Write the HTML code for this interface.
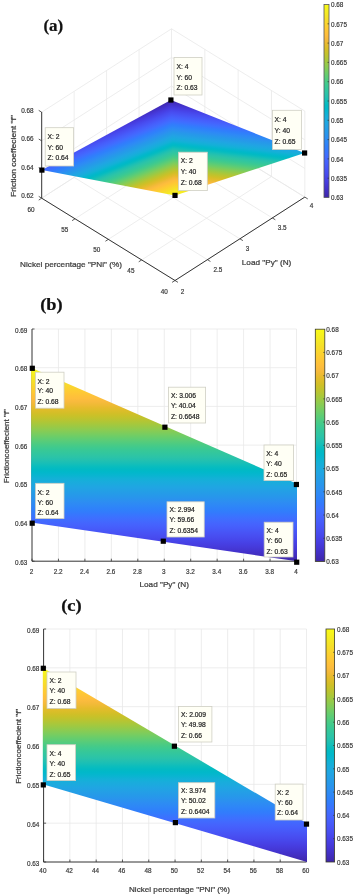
<!DOCTYPE html>
<html><head><meta charset="utf-8"><title>Friction coefficient plots</title>
<style>html,body{margin:0;padding:0;background:#fff}svg{display:block;filter:blur(.35px)}text{stroke-width:.22px;paint-order:stroke}</style></head>
<body>
<svg width="357" height="896" viewBox="0 0 357 896">
<defs>
<linearGradient id="parula"><stop offset="0.0000" stop-color="#f9fb15"/><stop offset="0.0159" stop-color="#f7f51b"/><stop offset="0.0317" stop-color="#f6ef20"/><stop offset="0.0476" stop-color="#f5e924"/><stop offset="0.0635" stop-color="#f5e327"/><stop offset="0.0794" stop-color="#f7dc2a"/><stop offset="0.0952" stop-color="#fad62d"/><stop offset="0.1111" stop-color="#fccf30"/><stop offset="0.1270" stop-color="#fec934"/><stop offset="0.1429" stop-color="#fec338"/><stop offset="0.1587" stop-color="#febe3c"/><stop offset="0.1746" stop-color="#f8ba3d"/><stop offset="0.1905" stop-color="#f0ba36"/><stop offset="0.2063" stop-color="#e6bb2d"/><stop offset="0.2222" stop-color="#dcbd29"/><stop offset="0.2381" stop-color="#d1bf27"/><stop offset="0.2540" stop-color="#c5c22a"/><stop offset="0.2698" stop-color="#b9c431"/><stop offset="0.2857" stop-color="#abc739"/><stop offset="0.3016" stop-color="#9dc943"/><stop offset="0.3175" stop-color="#8fcb4e"/><stop offset="0.3333" stop-color="#81cc59"/><stop offset="0.3492" stop-color="#72cd64"/><stop offset="0.3651" stop-color="#64cd6f"/><stop offset="0.3810" stop-color="#57cc7a"/><stop offset="0.3968" stop-color="#4acb84"/><stop offset="0.4127" stop-color="#3fca8e"/><stop offset="0.4286" stop-color="#37c897"/><stop offset="0.4444" stop-color="#31c69f"/><stop offset="0.4603" stop-color="#2cc4a7"/><stop offset="0.4762" stop-color="#24c1ae"/><stop offset="0.4921" stop-color="#19bfb6"/><stop offset="0.5079" stop-color="#0bbdbd"/><stop offset="0.5238" stop-color="#02bac3"/><stop offset="0.5397" stop-color="#01b8ca"/><stop offset="0.5556" stop-color="#08b5d0"/><stop offset="0.5714" stop-color="#12b1d6"/><stop offset="0.5873" stop-color="#18addb"/><stop offset="0.6032" stop-color="#1ca9df"/><stop offset="0.6190" stop-color="#20a5e3"/><stop offset="0.6349" stop-color="#23a0e5"/><stop offset="0.6508" stop-color="#259be8"/><stop offset="0.6667" stop-color="#2797eb"/><stop offset="0.6825" stop-color="#2b91ef"/><stop offset="0.6984" stop-color="#2d8cf3"/><stop offset="0.7143" stop-color="#2e87f7"/><stop offset="0.7302" stop-color="#2f81fa"/><stop offset="0.7460" stop-color="#327cfc"/><stop offset="0.7619" stop-color="#3875fe"/><stop offset="0.7778" stop-color="#3e6fff"/><stop offset="0.7937" stop-color="#4269fe"/><stop offset="0.8095" stop-color="#4563fd"/><stop offset="0.8254" stop-color="#465efb"/><stop offset="0.8413" stop-color="#4758f8"/><stop offset="0.8571" stop-color="#4852f4"/><stop offset="0.8730" stop-color="#484df0"/><stop offset="0.8889" stop-color="#4747eb"/><stop offset="0.9048" stop-color="#4741e5"/><stop offset="0.9206" stop-color="#463cde"/><stop offset="0.9365" stop-color="#4537d5"/><stop offset="0.9524" stop-color="#4332cb"/><stop offset="0.9683" stop-color="#422ec0"/><stop offset="0.9841" stop-color="#402ab4"/><stop offset="1.0000" stop-color="#3e26a8"/></linearGradient>
<linearGradient id="ga" href="#parula" gradientUnits="userSpaceOnUse" x1="0" y1="4.50" x2="0" y2="197.50"/>
<linearGradient id="gb" href="#parula" gradientUnits="userSpaceOnUse" x1="0" y1="329.20" x2="0" y2="561.50"/>
<linearGradient id="gc" href="#parula" gradientUnits="userSpaceOnUse" x1="0" y1="629.00" x2="0" y2="862.00"/>
<linearGradient id="pb" href="#parula" gradientUnits="userSpaceOnUse" x1="0" y1="367.70" x2="0" y2="561.20"/>
<linearGradient id="pc" href="#parula" gradientUnits="userSpaceOnUse" x1="0" y1="667.90" x2="0" y2="862.00"/>
</defs>
<rect width="357" height="896" fill="#fff"/>
<line x1="175.00" y1="280.50" x2="41.70" y2="198.20" stroke="#e9e9e9" stroke-width="0.8"/>
<line x1="207.45" y1="259.65" x2="74.15" y2="177.35" stroke="#e9e9e9" stroke-width="0.8"/>
<line x1="239.90" y1="238.80" x2="106.60" y2="156.50" stroke="#e9e9e9" stroke-width="0.8"/>
<line x1="272.35" y1="217.95" x2="139.05" y2="135.65" stroke="#e9e9e9" stroke-width="0.8"/>
<line x1="304.80" y1="197.10" x2="171.50" y2="114.80" stroke="#e9e9e9" stroke-width="0.8"/>
<line x1="175.00" y1="280.50" x2="304.80" y2="197.10" stroke="#e9e9e9" stroke-width="0.8"/>
<line x1="141.68" y1="259.93" x2="271.48" y2="176.52" stroke="#e9e9e9" stroke-width="0.8"/>
<line x1="108.35" y1="239.35" x2="238.15" y2="155.95" stroke="#e9e9e9" stroke-width="0.8"/>
<line x1="75.02" y1="218.77" x2="204.82" y2="135.38" stroke="#e9e9e9" stroke-width="0.8"/>
<line x1="41.70" y1="198.20" x2="171.50" y2="114.80" stroke="#e9e9e9" stroke-width="0.8"/>
<line x1="74.15" y1="177.35" x2="74.15" y2="91.35" stroke="#e9e9e9" stroke-width="0.8"/>
<line x1="106.60" y1="156.50" x2="106.60" y2="70.50" stroke="#e9e9e9" stroke-width="0.8"/>
<line x1="139.05" y1="135.65" x2="139.05" y2="49.65" stroke="#e9e9e9" stroke-width="0.8"/>
<line x1="171.50" y1="114.80" x2="171.50" y2="28.80" stroke="#e9e9e9" stroke-width="0.8"/>
<line x1="41.70" y1="198.20" x2="171.50" y2="114.80" stroke="#e9e9e9" stroke-width="0.8"/>
<line x1="171.50" y1="114.80" x2="304.80" y2="197.10" stroke="#e9e9e9" stroke-width="0.8"/>
<line x1="41.70" y1="169.53" x2="171.50" y2="86.13" stroke="#e9e9e9" stroke-width="0.8"/>
<line x1="171.50" y1="86.13" x2="304.80" y2="168.43" stroke="#e9e9e9" stroke-width="0.8"/>
<line x1="41.70" y1="140.87" x2="171.50" y2="57.47" stroke="#e9e9e9" stroke-width="0.8"/>
<line x1="171.50" y1="57.47" x2="304.80" y2="139.77" stroke="#e9e9e9" stroke-width="0.8"/>
<line x1="41.70" y1="112.20" x2="171.50" y2="28.80" stroke="#e9e9e9" stroke-width="0.8"/>
<line x1="171.50" y1="28.80" x2="304.80" y2="111.10" stroke="#e9e9e9" stroke-width="0.8"/>
<line x1="204.82" y1="135.38" x2="204.82" y2="49.37" stroke="#e9e9e9" stroke-width="0.8"/>
<line x1="238.15" y1="155.95" x2="238.15" y2="69.95" stroke="#e9e9e9" stroke-width="0.8"/>
<line x1="271.48" y1="176.52" x2="271.48" y2="90.52" stroke="#e9e9e9" stroke-width="0.8"/>
<line x1="304.80" y1="197.10" x2="304.80" y2="111.10" stroke="#e9e9e9" stroke-width="0.8"/>
<defs><linearGradient id="t1" href="#parula" gradientUnits="userSpaceOnUse" x1="175.00" y1="195.40" x2="185.54" y2="101.64"/><linearGradient id="t2" href="#parula" gradientUnits="userSpaceOnUse" x1="175.00" y1="195.40" x2="141.97" y2="111.37"/></defs>
<polygon points="175.00,195.40 304.60,153.00 170.90,100.00 169.40,101.10 173.50,195.10" fill="url(#t1)"/>
<polygon points="175.00,195.40 41.90,170.10 170.90,100.00" fill="url(#t2)"/>
<line x1="41.70" y1="112.00" x2="41.70" y2="198.20" stroke="#333333" stroke-width="1"/>
<line x1="41.70" y1="198.20" x2="175.00" y2="280.50" stroke="#333333" stroke-width="1"/>
<line x1="175.00" y1="280.50" x2="304.80" y2="197.10" stroke="#333333" stroke-width="1"/>
<line x1="41.70" y1="198.20" x2="38.72" y2="196.36" stroke="#333333" stroke-width="0.8"/>
<line x1="41.70" y1="169.53" x2="38.72" y2="167.69" stroke="#333333" stroke-width="0.8"/>
<line x1="41.70" y1="140.87" x2="38.72" y2="139.03" stroke="#333333" stroke-width="0.8"/>
<line x1="41.70" y1="112.20" x2="38.72" y2="110.36" stroke="#333333" stroke-width="0.8"/>
<line x1="175.00" y1="280.50" x2="172.06" y2="282.39" stroke="#333333" stroke-width="0.8"/>
<line x1="141.68" y1="259.93" x2="138.73" y2="261.82" stroke="#333333" stroke-width="0.8"/>
<line x1="108.35" y1="239.35" x2="105.41" y2="241.24" stroke="#333333" stroke-width="0.8"/>
<line x1="75.02" y1="218.77" x2="72.08" y2="220.67" stroke="#333333" stroke-width="0.8"/>
<line x1="41.70" y1="198.20" x2="38.76" y2="200.09" stroke="#333333" stroke-width="0.8"/>
<line x1="175.00" y1="280.50" x2="177.98" y2="282.34" stroke="#333333" stroke-width="0.8"/>
<line x1="207.45" y1="259.65" x2="210.43" y2="261.49" stroke="#333333" stroke-width="0.8"/>
<line x1="239.90" y1="238.80" x2="242.88" y2="240.64" stroke="#333333" stroke-width="0.8"/>
<line x1="272.35" y1="217.95" x2="275.33" y2="219.79" stroke="#333333" stroke-width="0.8"/>
<line x1="304.80" y1="197.10" x2="307.78" y2="198.94" stroke="#333333" stroke-width="0.8"/>
<text transform="translate(33.60,113.15) scale(0.85,1)" font-family="Liberation Sans, Arial, sans-serif" font-size="7.5" text-anchor="end" fill="#3a3a3a" stroke="#3a3a3a">0.68</text>
<text transform="translate(33.60,141.25) scale(0.85,1)" font-family="Liberation Sans, Arial, sans-serif" font-size="7.5" text-anchor="end" fill="#3a3a3a" stroke="#3a3a3a">0.66</text>
<text transform="translate(33.60,169.95) scale(0.85,1)" font-family="Liberation Sans, Arial, sans-serif" font-size="7.5" text-anchor="end" fill="#3a3a3a" stroke="#3a3a3a">0.64</text>
<text transform="translate(33.60,198.25) scale(0.85,1)" font-family="Liberation Sans, Arial, sans-serif" font-size="7.5" text-anchor="end" fill="#3a3a3a" stroke="#3a3a3a">0.62</text>
<text transform="translate(31.00,211.65) scale(0.85,1)" font-family="Liberation Sans, Arial, sans-serif" font-size="7.5" text-anchor="middle" fill="#3a3a3a" stroke="#3a3a3a">60</text>
<text transform="translate(64.80,232.25) scale(0.85,1)" font-family="Liberation Sans, Arial, sans-serif" font-size="7.5" text-anchor="middle" fill="#3a3a3a" stroke="#3a3a3a">55</text>
<text transform="translate(96.80,252.25) scale(0.85,1)" font-family="Liberation Sans, Arial, sans-serif" font-size="7.5" text-anchor="middle" fill="#3a3a3a" stroke="#3a3a3a">50</text>
<text transform="translate(130.90,273.05) scale(0.85,1)" font-family="Liberation Sans, Arial, sans-serif" font-size="7.5" text-anchor="middle" fill="#3a3a3a" stroke="#3a3a3a">45</text>
<text transform="translate(164.20,293.65) scale(0.85,1)" font-family="Liberation Sans, Arial, sans-serif" font-size="7.5" text-anchor="middle" fill="#3a3a3a" stroke="#3a3a3a">40</text>
<text transform="translate(182.40,293.65) scale(0.85,1)" font-family="Liberation Sans, Arial, sans-serif" font-size="7.5" text-anchor="middle" fill="#3a3a3a" stroke="#3a3a3a">2</text>
<text transform="translate(217.80,271.65) scale(0.85,1)" font-family="Liberation Sans, Arial, sans-serif" font-size="7.5" text-anchor="middle" fill="#3a3a3a" stroke="#3a3a3a">2.5</text>
<text transform="translate(247.60,251.05) scale(0.85,1)" font-family="Liberation Sans, Arial, sans-serif" font-size="7.5" text-anchor="middle" fill="#3a3a3a" stroke="#3a3a3a">3</text>
<text transform="translate(282.10,229.65) scale(0.85,1)" font-family="Liberation Sans, Arial, sans-serif" font-size="7.5" text-anchor="middle" fill="#3a3a3a" stroke="#3a3a3a">3.5</text>
<text transform="translate(311.50,208.15) scale(0.85,1)" font-family="Liberation Sans, Arial, sans-serif" font-size="7.5" text-anchor="middle" fill="#3a3a3a" stroke="#3a3a3a">4</text>
<text transform="translate(20.10,266.90) scale(1,1)" font-family="Liberation Sans, Arial, sans-serif" font-size="8" text-anchor="start" fill="#3a3a3a" stroke="#3a3a3a" textLength="101.8" lengthAdjust="spacingAndGlyphs">Nickel percentage &quot;PNi&quot; (%)</text>
<text transform="translate(241.80,265.40) scale(1,1)" font-family="Liberation Sans, Arial, sans-serif" font-size="8" text-anchor="start" fill="#3a3a3a" stroke="#3a3a3a" textLength="49.5" lengthAdjust="spacingAndGlyphs">Load &quot;Py&quot; (N)</text>
<text transform="translate(16.3,197) rotate(-90)" font-family="Liberation Sans, Arial, sans-serif" font-size="7.6" fill="#3a3a3a" stroke="#3a3a3a" textLength="82" lengthAdjust="spacingAndGlyphs">Friction coeffecient &quot;f&quot;</text>
<text transform="translate(43.40,30.90) scale(1,1)" font-family="Liberation Serif, Times New Roman, serif" font-size="17" text-anchor="start" fill="#111" stroke="#111" font-weight="bold">(a)</text>
<rect x="174.00" y="57.50" width="28.00" height="37.50" fill="#fffff5" stroke="#cfcfc4" stroke-width="0.8"/>
<text transform="translate(176.50,69.05) scale(0.88,1)" font-family="Liberation Sans, Arial, sans-serif" font-size="7.7" text-anchor="start" fill="#222" stroke="#222">X: 4</text>
<text transform="translate(176.50,79.65) scale(0.88,1)" font-family="Liberation Sans, Arial, sans-serif" font-size="7.7" text-anchor="start" fill="#222" stroke="#222">Y: 60</text>
<text transform="translate(176.50,90.05) scale(0.88,1)" font-family="Liberation Sans, Arial, sans-serif" font-size="7.7" text-anchor="start" fill="#222" stroke="#222">Z: 0.63</text>
<rect x="168.30" y="97.40" width="5.2" height="5.2" fill="#000"/>
<rect x="45.20" y="127.70" width="28.40" height="38.30" fill="#fffff5" stroke="#cfcfc4" stroke-width="0.8"/>
<text transform="translate(47.50,138.95) scale(0.88,1)" font-family="Liberation Sans, Arial, sans-serif" font-size="7.7" text-anchor="start" fill="#222" stroke="#222">X: 2</text>
<text transform="translate(47.50,149.75) scale(0.88,1)" font-family="Liberation Sans, Arial, sans-serif" font-size="7.7" text-anchor="start" fill="#222" stroke="#222">Y: 60</text>
<text transform="translate(47.50,160.45) scale(0.88,1)" font-family="Liberation Sans, Arial, sans-serif" font-size="7.7" text-anchor="start" fill="#222" stroke="#222">Z: 0.64</text>
<rect x="39.30" y="167.50" width="5.2" height="5.2" fill="#000"/>
<rect x="178.40" y="152.20" width="28.90" height="38.40" fill="#fffff5" stroke="#cfcfc4" stroke-width="0.8"/>
<text transform="translate(180.80,163.35) scale(0.88,1)" font-family="Liberation Sans, Arial, sans-serif" font-size="7.7" text-anchor="start" fill="#222" stroke="#222">X: 2</text>
<text transform="translate(180.80,174.15) scale(0.88,1)" font-family="Liberation Sans, Arial, sans-serif" font-size="7.7" text-anchor="start" fill="#222" stroke="#222">Y: 40</text>
<text transform="translate(180.80,185.45) scale(0.88,1)" font-family="Liberation Sans, Arial, sans-serif" font-size="7.7" text-anchor="start" fill="#222" stroke="#222">Z: 0.68</text>
<rect x="172.40" y="192.80" width="5.2" height="5.2" fill="#000"/>
<rect x="272.50" y="110.30" width="28.90" height="39.20" fill="#fffff5" stroke="#cfcfc4" stroke-width="0.8"/>
<text transform="translate(274.50,122.25) scale(0.88,1)" font-family="Liberation Sans, Arial, sans-serif" font-size="7.7" text-anchor="start" fill="#222" stroke="#222">X: 4</text>
<text transform="translate(274.50,133.45) scale(0.88,1)" font-family="Liberation Sans, Arial, sans-serif" font-size="7.7" text-anchor="start" fill="#222" stroke="#222">Y: 40</text>
<text transform="translate(274.50,144.25) scale(0.88,1)" font-family="Liberation Sans, Arial, sans-serif" font-size="7.7" text-anchor="start" fill="#222" stroke="#222">Z: 0.65</text>
<rect x="302.00" y="150.40" width="5.2" height="5.2" fill="#000"/>
<rect x="324.00" y="4.50" width="5.00" height="193.00" fill="url(#ga)" stroke="#55555a" stroke-width="0.8"/>
<text transform="translate(331.00,7.20) scale(0.85,1)" font-family="Liberation Sans, Arial, sans-serif" font-size="7.5" text-anchor="start" fill="#3a3a3a" stroke="#3a3a3a">0.68</text>
<line x1="327.50" y1="23.80" x2="329.00" y2="23.80" stroke="#333" stroke-width="0.7"/>
<text transform="translate(331.00,26.50) scale(0.85,1)" font-family="Liberation Sans, Arial, sans-serif" font-size="7.5" text-anchor="start" fill="#3a3a3a" stroke="#3a3a3a">0.675</text>
<line x1="327.50" y1="43.10" x2="329.00" y2="43.10" stroke="#333" stroke-width="0.7"/>
<text transform="translate(331.00,45.80) scale(0.85,1)" font-family="Liberation Sans, Arial, sans-serif" font-size="7.5" text-anchor="start" fill="#3a3a3a" stroke="#3a3a3a">0.67</text>
<line x1="327.50" y1="62.40" x2="329.00" y2="62.40" stroke="#333" stroke-width="0.7"/>
<text transform="translate(331.00,65.10) scale(0.85,1)" font-family="Liberation Sans, Arial, sans-serif" font-size="7.5" text-anchor="start" fill="#3a3a3a" stroke="#3a3a3a">0.665</text>
<line x1="327.50" y1="81.70" x2="329.00" y2="81.70" stroke="#333" stroke-width="0.7"/>
<text transform="translate(331.00,84.40) scale(0.85,1)" font-family="Liberation Sans, Arial, sans-serif" font-size="7.5" text-anchor="start" fill="#3a3a3a" stroke="#3a3a3a">0.66</text>
<line x1="327.50" y1="101.00" x2="329.00" y2="101.00" stroke="#333" stroke-width="0.7"/>
<text transform="translate(331.00,103.70) scale(0.85,1)" font-family="Liberation Sans, Arial, sans-serif" font-size="7.5" text-anchor="start" fill="#3a3a3a" stroke="#3a3a3a">0.655</text>
<line x1="327.50" y1="120.30" x2="329.00" y2="120.30" stroke="#333" stroke-width="0.7"/>
<text transform="translate(331.00,123.00) scale(0.85,1)" font-family="Liberation Sans, Arial, sans-serif" font-size="7.5" text-anchor="start" fill="#3a3a3a" stroke="#3a3a3a">0.65</text>
<line x1="327.50" y1="139.60" x2="329.00" y2="139.60" stroke="#333" stroke-width="0.7"/>
<text transform="translate(331.00,142.30) scale(0.85,1)" font-family="Liberation Sans, Arial, sans-serif" font-size="7.5" text-anchor="start" fill="#3a3a3a" stroke="#3a3a3a">0.645</text>
<line x1="327.50" y1="158.90" x2="329.00" y2="158.90" stroke="#333" stroke-width="0.7"/>
<text transform="translate(331.00,161.60) scale(0.85,1)" font-family="Liberation Sans, Arial, sans-serif" font-size="7.5" text-anchor="start" fill="#3a3a3a" stroke="#3a3a3a">0.64</text>
<line x1="327.50" y1="178.20" x2="329.00" y2="178.20" stroke="#333" stroke-width="0.7"/>
<text transform="translate(331.00,180.90) scale(0.85,1)" font-family="Liberation Sans, Arial, sans-serif" font-size="7.5" text-anchor="start" fill="#3a3a3a" stroke="#3a3a3a">0.635</text>
<text transform="translate(331.00,200.20) scale(0.85,1)" font-family="Liberation Sans, Arial, sans-serif" font-size="7.5" text-anchor="start" fill="#3a3a3a" stroke="#3a3a3a">0.63</text>
<line x1="58.45" y1="329.00" x2="58.45" y2="561.20" stroke="#e9e9e9" stroke-width="0.8"/>
<line x1="84.90" y1="329.00" x2="84.90" y2="561.20" stroke="#e9e9e9" stroke-width="0.8"/>
<line x1="111.35" y1="329.00" x2="111.35" y2="561.20" stroke="#e9e9e9" stroke-width="0.8"/>
<line x1="137.80" y1="329.00" x2="137.80" y2="561.20" stroke="#e9e9e9" stroke-width="0.8"/>
<line x1="164.25" y1="329.00" x2="164.25" y2="561.20" stroke="#e9e9e9" stroke-width="0.8"/>
<line x1="190.70" y1="329.00" x2="190.70" y2="561.20" stroke="#e9e9e9" stroke-width="0.8"/>
<line x1="217.15" y1="329.00" x2="217.15" y2="561.20" stroke="#e9e9e9" stroke-width="0.8"/>
<line x1="243.60" y1="329.00" x2="243.60" y2="561.20" stroke="#e9e9e9" stroke-width="0.8"/>
<line x1="270.05" y1="329.00" x2="270.05" y2="561.20" stroke="#e9e9e9" stroke-width="0.8"/>
<line x1="296.50" y1="329.00" x2="296.50" y2="561.20" stroke="#e9e9e9" stroke-width="0.8"/>
<line x1="32.00" y1="522.50" x2="296.50" y2="522.50" stroke="#e9e9e9" stroke-width="0.8"/>
<line x1="32.00" y1="483.80" x2="296.50" y2="483.80" stroke="#e9e9e9" stroke-width="0.8"/>
<line x1="32.00" y1="445.10" x2="296.50" y2="445.10" stroke="#e9e9e9" stroke-width="0.8"/>
<line x1="32.00" y1="406.40" x2="296.50" y2="406.40" stroke="#e9e9e9" stroke-width="0.8"/>
<line x1="32.00" y1="367.70" x2="296.50" y2="367.70" stroke="#e9e9e9" stroke-width="0.8"/>
<line x1="32.00" y1="329.00" x2="296.50" y2="329.00" stroke="#e9e9e9" stroke-width="0.8"/>
<line x1="32.00" y1="329.00" x2="32.00" y2="561.20" stroke="#333333" stroke-width="1"/>
<line x1="32.00" y1="561.20" x2="296.50" y2="561.20" stroke="#333333" stroke-width="1"/>
<line x1="32.00" y1="561.20" x2="32.00" y2="558.70" stroke="#333333" stroke-width="0.8"/>
<text transform="translate(31.60,573.65) scale(0.85,1)" font-family="Liberation Sans, Arial, sans-serif" font-size="7.5" text-anchor="middle" fill="#3a3a3a" stroke="#3a3a3a">2</text>
<line x1="58.45" y1="561.20" x2="58.45" y2="558.70" stroke="#333333" stroke-width="0.8"/>
<text transform="translate(58.05,573.65) scale(0.85,1)" font-family="Liberation Sans, Arial, sans-serif" font-size="7.5" text-anchor="middle" fill="#3a3a3a" stroke="#3a3a3a">2.2</text>
<line x1="84.90" y1="561.20" x2="84.90" y2="558.70" stroke="#333333" stroke-width="0.8"/>
<text transform="translate(84.50,573.65) scale(0.85,1)" font-family="Liberation Sans, Arial, sans-serif" font-size="7.5" text-anchor="middle" fill="#3a3a3a" stroke="#3a3a3a">2.4</text>
<line x1="111.35" y1="561.20" x2="111.35" y2="558.70" stroke="#333333" stroke-width="0.8"/>
<text transform="translate(110.95,573.65) scale(0.85,1)" font-family="Liberation Sans, Arial, sans-serif" font-size="7.5" text-anchor="middle" fill="#3a3a3a" stroke="#3a3a3a">2.6</text>
<line x1="137.80" y1="561.20" x2="137.80" y2="558.70" stroke="#333333" stroke-width="0.8"/>
<text transform="translate(137.40,573.65) scale(0.85,1)" font-family="Liberation Sans, Arial, sans-serif" font-size="7.5" text-anchor="middle" fill="#3a3a3a" stroke="#3a3a3a">2.8</text>
<line x1="164.25" y1="561.20" x2="164.25" y2="558.70" stroke="#333333" stroke-width="0.8"/>
<text transform="translate(163.85,573.65) scale(0.85,1)" font-family="Liberation Sans, Arial, sans-serif" font-size="7.5" text-anchor="middle" fill="#3a3a3a" stroke="#3a3a3a">3</text>
<line x1="190.70" y1="561.20" x2="190.70" y2="558.70" stroke="#333333" stroke-width="0.8"/>
<text transform="translate(190.30,573.65) scale(0.85,1)" font-family="Liberation Sans, Arial, sans-serif" font-size="7.5" text-anchor="middle" fill="#3a3a3a" stroke="#3a3a3a">3.2</text>
<line x1="217.15" y1="561.20" x2="217.15" y2="558.70" stroke="#333333" stroke-width="0.8"/>
<text transform="translate(216.75,573.65) scale(0.85,1)" font-family="Liberation Sans, Arial, sans-serif" font-size="7.5" text-anchor="middle" fill="#3a3a3a" stroke="#3a3a3a">3.4</text>
<line x1="243.60" y1="561.20" x2="243.60" y2="558.70" stroke="#333333" stroke-width="0.8"/>
<text transform="translate(243.20,573.65) scale(0.85,1)" font-family="Liberation Sans, Arial, sans-serif" font-size="7.5" text-anchor="middle" fill="#3a3a3a" stroke="#3a3a3a">3.6</text>
<line x1="270.05" y1="561.20" x2="270.05" y2="558.70" stroke="#333333" stroke-width="0.8"/>
<text transform="translate(269.65,573.65) scale(0.85,1)" font-family="Liberation Sans, Arial, sans-serif" font-size="7.5" text-anchor="middle" fill="#3a3a3a" stroke="#3a3a3a">3.8</text>
<line x1="296.50" y1="561.20" x2="296.50" y2="558.70" stroke="#333333" stroke-width="0.8"/>
<text transform="translate(296.10,573.65) scale(0.85,1)" font-family="Liberation Sans, Arial, sans-serif" font-size="7.5" text-anchor="middle" fill="#3a3a3a" stroke="#3a3a3a">4</text>
<line x1="32.00" y1="561.20" x2="34.50" y2="561.20" stroke="#333333" stroke-width="0.8"/>
<text transform="translate(27.40,564.75) scale(0.85,1)" font-family="Liberation Sans, Arial, sans-serif" font-size="7.5" text-anchor="end" fill="#3a3a3a" stroke="#3a3a3a">0.63</text>
<line x1="32.00" y1="522.50" x2="34.50" y2="522.50" stroke="#333333" stroke-width="0.8"/>
<text transform="translate(27.40,526.05) scale(0.85,1)" font-family="Liberation Sans, Arial, sans-serif" font-size="7.5" text-anchor="end" fill="#3a3a3a" stroke="#3a3a3a">0.64</text>
<line x1="32.00" y1="483.80" x2="34.50" y2="483.80" stroke="#333333" stroke-width="0.8"/>
<text transform="translate(27.40,487.35) scale(0.85,1)" font-family="Liberation Sans, Arial, sans-serif" font-size="7.5" text-anchor="end" fill="#3a3a3a" stroke="#3a3a3a">0.65</text>
<line x1="32.00" y1="445.10" x2="34.50" y2="445.10" stroke="#333333" stroke-width="0.8"/>
<text transform="translate(27.40,448.65) scale(0.85,1)" font-family="Liberation Sans, Arial, sans-serif" font-size="7.5" text-anchor="end" fill="#3a3a3a" stroke="#3a3a3a">0.66</text>
<line x1="32.00" y1="406.40" x2="34.50" y2="406.40" stroke="#333333" stroke-width="0.8"/>
<text transform="translate(27.40,409.95) scale(0.85,1)" font-family="Liberation Sans, Arial, sans-serif" font-size="7.5" text-anchor="end" fill="#3a3a3a" stroke="#3a3a3a">0.67</text>
<line x1="32.00" y1="367.70" x2="34.50" y2="367.70" stroke="#333333" stroke-width="0.8"/>
<text transform="translate(27.40,371.25) scale(0.85,1)" font-family="Liberation Sans, Arial, sans-serif" font-size="7.5" text-anchor="end" fill="#3a3a3a" stroke="#3a3a3a">0.68</text>
<line x1="32.00" y1="329.00" x2="34.50" y2="329.00" stroke="#333333" stroke-width="0.8"/>
<text transform="translate(27.40,332.55) scale(0.85,1)" font-family="Liberation Sans, Arial, sans-serif" font-size="7.5" text-anchor="end" fill="#3a3a3a" stroke="#3a3a3a">0.69</text>
<polygon points="31.2,367.7 297.0,483.8 297.0,561.2 31.2,522.5" fill="url(#pb)"/>
<text transform="translate(139.50,587.20) scale(1,1)" font-family="Liberation Sans, Arial, sans-serif" font-size="8" text-anchor="start" fill="#3a3a3a" stroke="#3a3a3a" textLength="49.5" lengthAdjust="spacingAndGlyphs">Load &quot;Py&quot; (N)</text>
<text transform="translate(9.2,483.3) rotate(-90)" font-family="Liberation Sans, Arial, sans-serif" font-size="7.5" fill="#3a3a3a" stroke="#3a3a3a" textLength="74" lengthAdjust="spacingAndGlyphs">Frictioncoeffecient &quot;f&quot;</text>
<text transform="translate(40.20,310.30) scale(1.122,1)" font-family="Liberation Serif, Times New Roman, serif" font-size="16.4" text-anchor="start" fill="#111" stroke="#111" font-weight="bold">(b)</text>
<rect x="35.60" y="372.20" width="28.40" height="36.00" fill="#fffff5" stroke="#cfcfc4" stroke-width="0.8"/>
<text transform="translate(37.50,383.55) scale(0.88,1)" font-family="Liberation Sans, Arial, sans-serif" font-size="7.7" text-anchor="start" fill="#222" stroke="#222">X: 2</text>
<text transform="translate(37.50,393.45) scale(0.88,1)" font-family="Liberation Sans, Arial, sans-serif" font-size="7.7" text-anchor="start" fill="#222" stroke="#222">Y: 40</text>
<text transform="translate(37.50,404.15) scale(0.88,1)" font-family="Liberation Sans, Arial, sans-serif" font-size="7.7" text-anchor="start" fill="#222" stroke="#222">Z: 0.68</text>
<rect x="29.70" y="365.70" width="5.2" height="5.2" fill="#000"/>
<rect x="168.50" y="387.20" width="37.10" height="35.80" fill="#fffff5" stroke="#cfcfc4" stroke-width="0.8"/>
<text transform="translate(170.90,397.95) scale(0.88,1)" font-family="Liberation Sans, Arial, sans-serif" font-size="7.7" text-anchor="start" fill="#222" stroke="#222">X: 3.006</text>
<text transform="translate(170.90,408.05) scale(0.88,1)" font-family="Liberation Sans, Arial, sans-serif" font-size="7.7" text-anchor="start" fill="#222" stroke="#222">Y: 40.04</text>
<text transform="translate(170.90,419.35) scale(0.88,1)" font-family="Liberation Sans, Arial, sans-serif" font-size="7.7" text-anchor="start" fill="#222" stroke="#222">Z: 0.6648</text>
<rect x="162.30" y="424.60" width="5.2" height="5.2" fill="#000"/>
<rect x="264.00" y="445.00" width="29.60" height="35.60" fill="#fffff5" stroke="#cfcfc4" stroke-width="0.8"/>
<text transform="translate(266.30,456.35) scale(0.88,1)" font-family="Liberation Sans, Arial, sans-serif" font-size="7.7" text-anchor="start" fill="#222" stroke="#222">X: 4</text>
<text transform="translate(266.30,466.05) scale(0.88,1)" font-family="Liberation Sans, Arial, sans-serif" font-size="7.7" text-anchor="start" fill="#222" stroke="#222">Y: 40</text>
<text transform="translate(266.30,476.75) scale(0.88,1)" font-family="Liberation Sans, Arial, sans-serif" font-size="7.7" text-anchor="start" fill="#222" stroke="#222">Z: 0.65</text>
<rect x="293.80" y="481.90" width="5.2" height="5.2" fill="#000"/>
<rect x="35.60" y="483.30" width="28.40" height="35.30" fill="#fffff5" stroke="#cfcfc4" stroke-width="0.8"/>
<text transform="translate(37.50,494.75) scale(0.88,1)" font-family="Liberation Sans, Arial, sans-serif" font-size="7.7" text-anchor="start" fill="#222" stroke="#222">X: 2</text>
<text transform="translate(37.50,504.65) scale(0.88,1)" font-family="Liberation Sans, Arial, sans-serif" font-size="7.7" text-anchor="start" fill="#222" stroke="#222">Y: 60</text>
<text transform="translate(37.50,514.95) scale(0.88,1)" font-family="Liberation Sans, Arial, sans-serif" font-size="7.7" text-anchor="start" fill="#222" stroke="#222">Z: 0.64</text>
<rect x="29.60" y="520.60" width="5.2" height="5.2" fill="#000"/>
<rect x="167.00" y="501.80" width="37.20" height="35.20" fill="#fffff5" stroke="#cfcfc4" stroke-width="0.8"/>
<text transform="translate(169.50,512.35) scale(0.88,1)" font-family="Liberation Sans, Arial, sans-serif" font-size="7.7" text-anchor="start" fill="#222" stroke="#222">X: 2.994</text>
<text transform="translate(169.50,522.25) scale(0.88,1)" font-family="Liberation Sans, Arial, sans-serif" font-size="7.7" text-anchor="start" fill="#222" stroke="#222">Y: 59.66</text>
<text transform="translate(169.50,532.95) scale(0.88,1)" font-family="Liberation Sans, Arial, sans-serif" font-size="7.7" text-anchor="start" fill="#222" stroke="#222">Z: 0.6354</text>
<rect x="160.70" y="538.60" width="5.2" height="5.2" fill="#000"/>
<rect x="264.20" y="522.20" width="28.80" height="34.80" fill="#fffff5" stroke="#cfcfc4" stroke-width="0.8"/>
<text transform="translate(266.60,533.35) scale(0.88,1)" font-family="Liberation Sans, Arial, sans-serif" font-size="7.7" text-anchor="start" fill="#222" stroke="#222">X: 4</text>
<text transform="translate(266.60,543.05) scale(0.88,1)" font-family="Liberation Sans, Arial, sans-serif" font-size="7.7" text-anchor="start" fill="#222" stroke="#222">Y: 60</text>
<text transform="translate(266.60,553.95) scale(0.88,1)" font-family="Liberation Sans, Arial, sans-serif" font-size="7.7" text-anchor="start" fill="#222" stroke="#222">Z: 0.63</text>
<rect x="294.10" y="559.60" width="5.2" height="5.2" fill="#000"/>
<rect x="315.30" y="329.20" width="9.50" height="232.30" fill="url(#gb)" stroke="#3c3c28" stroke-width="0.8"/>
<text transform="translate(326.30,331.90) scale(0.85,1)" font-family="Liberation Sans, Arial, sans-serif" font-size="7.5" text-anchor="start" fill="#3a3a3a" stroke="#3a3a3a">0.68</text>
<line x1="323.30" y1="352.43" x2="324.80" y2="352.43" stroke="#333" stroke-width="0.7"/>
<text transform="translate(326.30,355.13) scale(0.85,1)" font-family="Liberation Sans, Arial, sans-serif" font-size="7.5" text-anchor="start" fill="#3a3a3a" stroke="#3a3a3a">0.675</text>
<line x1="323.30" y1="375.66" x2="324.80" y2="375.66" stroke="#333" stroke-width="0.7"/>
<text transform="translate(326.30,378.36) scale(0.85,1)" font-family="Liberation Sans, Arial, sans-serif" font-size="7.5" text-anchor="start" fill="#3a3a3a" stroke="#3a3a3a">0.67</text>
<line x1="323.30" y1="398.89" x2="324.80" y2="398.89" stroke="#333" stroke-width="0.7"/>
<text transform="translate(326.30,401.59) scale(0.85,1)" font-family="Liberation Sans, Arial, sans-serif" font-size="7.5" text-anchor="start" fill="#3a3a3a" stroke="#3a3a3a">0.665</text>
<line x1="323.30" y1="422.12" x2="324.80" y2="422.12" stroke="#333" stroke-width="0.7"/>
<text transform="translate(326.30,424.82) scale(0.85,1)" font-family="Liberation Sans, Arial, sans-serif" font-size="7.5" text-anchor="start" fill="#3a3a3a" stroke="#3a3a3a">0.66</text>
<line x1="323.30" y1="445.35" x2="324.80" y2="445.35" stroke="#333" stroke-width="0.7"/>
<text transform="translate(326.30,448.05) scale(0.85,1)" font-family="Liberation Sans, Arial, sans-serif" font-size="7.5" text-anchor="start" fill="#3a3a3a" stroke="#3a3a3a">0.655</text>
<line x1="323.30" y1="468.58" x2="324.80" y2="468.58" stroke="#333" stroke-width="0.7"/>
<text transform="translate(326.30,471.28) scale(0.85,1)" font-family="Liberation Sans, Arial, sans-serif" font-size="7.5" text-anchor="start" fill="#3a3a3a" stroke="#3a3a3a">0.65</text>
<line x1="323.30" y1="491.81" x2="324.80" y2="491.81" stroke="#333" stroke-width="0.7"/>
<text transform="translate(326.30,494.51) scale(0.85,1)" font-family="Liberation Sans, Arial, sans-serif" font-size="7.5" text-anchor="start" fill="#3a3a3a" stroke="#3a3a3a">0.645</text>
<line x1="323.30" y1="515.04" x2="324.80" y2="515.04" stroke="#333" stroke-width="0.7"/>
<text transform="translate(326.30,517.74) scale(0.85,1)" font-family="Liberation Sans, Arial, sans-serif" font-size="7.5" text-anchor="start" fill="#3a3a3a" stroke="#3a3a3a">0.64</text>
<line x1="323.30" y1="538.27" x2="324.80" y2="538.27" stroke="#333" stroke-width="0.7"/>
<text transform="translate(326.30,540.97) scale(0.85,1)" font-family="Liberation Sans, Arial, sans-serif" font-size="7.5" text-anchor="start" fill="#3a3a3a" stroke="#3a3a3a">0.635</text>
<text transform="translate(326.30,564.20) scale(0.85,1)" font-family="Liberation Sans, Arial, sans-serif" font-size="7.5" text-anchor="start" fill="#3a3a3a" stroke="#3a3a3a">0.63</text>
<line x1="69.89" y1="629.00" x2="69.89" y2="862.00" stroke="#e9e9e9" stroke-width="0.8"/>
<line x1="96.18" y1="629.00" x2="96.18" y2="862.00" stroke="#e9e9e9" stroke-width="0.8"/>
<line x1="122.47" y1="629.00" x2="122.47" y2="862.00" stroke="#e9e9e9" stroke-width="0.8"/>
<line x1="148.76" y1="629.00" x2="148.76" y2="862.00" stroke="#e9e9e9" stroke-width="0.8"/>
<line x1="175.05" y1="629.00" x2="175.05" y2="862.00" stroke="#e9e9e9" stroke-width="0.8"/>
<line x1="201.34" y1="629.00" x2="201.34" y2="862.00" stroke="#e9e9e9" stroke-width="0.8"/>
<line x1="227.63" y1="629.00" x2="227.63" y2="862.00" stroke="#e9e9e9" stroke-width="0.8"/>
<line x1="253.92" y1="629.00" x2="253.92" y2="862.00" stroke="#e9e9e9" stroke-width="0.8"/>
<line x1="280.21" y1="629.00" x2="280.21" y2="862.00" stroke="#e9e9e9" stroke-width="0.8"/>
<line x1="306.50" y1="629.00" x2="306.50" y2="862.00" stroke="#e9e9e9" stroke-width="0.8"/>
<line x1="43.60" y1="823.17" x2="306.50" y2="823.17" stroke="#e9e9e9" stroke-width="0.8"/>
<line x1="43.60" y1="784.33" x2="306.50" y2="784.33" stroke="#e9e9e9" stroke-width="0.8"/>
<line x1="43.60" y1="745.50" x2="306.50" y2="745.50" stroke="#e9e9e9" stroke-width="0.8"/>
<line x1="43.60" y1="706.67" x2="306.50" y2="706.67" stroke="#e9e9e9" stroke-width="0.8"/>
<line x1="43.60" y1="667.83" x2="306.50" y2="667.83" stroke="#e9e9e9" stroke-width="0.8"/>
<line x1="43.60" y1="629.00" x2="306.50" y2="629.00" stroke="#e9e9e9" stroke-width="0.8"/>
<line x1="43.60" y1="629.00" x2="43.60" y2="862.00" stroke="#333333" stroke-width="1"/>
<line x1="43.60" y1="862.00" x2="306.50" y2="862.00" stroke="#333333" stroke-width="1"/>
<line x1="43.60" y1="862.00" x2="43.60" y2="859.50" stroke="#333333" stroke-width="0.8"/>
<text transform="translate(42.90,873.25) scale(0.85,1)" font-family="Liberation Sans, Arial, sans-serif" font-size="7.5" text-anchor="middle" fill="#3a3a3a" stroke="#3a3a3a">40</text>
<line x1="69.89" y1="862.00" x2="69.89" y2="859.50" stroke="#333333" stroke-width="0.8"/>
<text transform="translate(69.19,873.25) scale(0.85,1)" font-family="Liberation Sans, Arial, sans-serif" font-size="7.5" text-anchor="middle" fill="#3a3a3a" stroke="#3a3a3a">42</text>
<line x1="96.18" y1="862.00" x2="96.18" y2="859.50" stroke="#333333" stroke-width="0.8"/>
<text transform="translate(95.48,873.25) scale(0.85,1)" font-family="Liberation Sans, Arial, sans-serif" font-size="7.5" text-anchor="middle" fill="#3a3a3a" stroke="#3a3a3a">44</text>
<line x1="122.47" y1="862.00" x2="122.47" y2="859.50" stroke="#333333" stroke-width="0.8"/>
<text transform="translate(121.77,873.25) scale(0.85,1)" font-family="Liberation Sans, Arial, sans-serif" font-size="7.5" text-anchor="middle" fill="#3a3a3a" stroke="#3a3a3a">46</text>
<line x1="148.76" y1="862.00" x2="148.76" y2="859.50" stroke="#333333" stroke-width="0.8"/>
<text transform="translate(148.06,873.25) scale(0.85,1)" font-family="Liberation Sans, Arial, sans-serif" font-size="7.5" text-anchor="middle" fill="#3a3a3a" stroke="#3a3a3a">48</text>
<line x1="175.05" y1="862.00" x2="175.05" y2="859.50" stroke="#333333" stroke-width="0.8"/>
<text transform="translate(174.35,873.25) scale(0.85,1)" font-family="Liberation Sans, Arial, sans-serif" font-size="7.5" text-anchor="middle" fill="#3a3a3a" stroke="#3a3a3a">50</text>
<line x1="201.34" y1="862.00" x2="201.34" y2="859.50" stroke="#333333" stroke-width="0.8"/>
<text transform="translate(200.64,873.25) scale(0.85,1)" font-family="Liberation Sans, Arial, sans-serif" font-size="7.5" text-anchor="middle" fill="#3a3a3a" stroke="#3a3a3a">52</text>
<line x1="227.63" y1="862.00" x2="227.63" y2="859.50" stroke="#333333" stroke-width="0.8"/>
<text transform="translate(226.93,873.25) scale(0.85,1)" font-family="Liberation Sans, Arial, sans-serif" font-size="7.5" text-anchor="middle" fill="#3a3a3a" stroke="#3a3a3a">54</text>
<line x1="253.92" y1="862.00" x2="253.92" y2="859.50" stroke="#333333" stroke-width="0.8"/>
<text transform="translate(253.22,873.25) scale(0.85,1)" font-family="Liberation Sans, Arial, sans-serif" font-size="7.5" text-anchor="middle" fill="#3a3a3a" stroke="#3a3a3a">56</text>
<line x1="280.21" y1="862.00" x2="280.21" y2="859.50" stroke="#333333" stroke-width="0.8"/>
<text transform="translate(279.51,873.25) scale(0.85,1)" font-family="Liberation Sans, Arial, sans-serif" font-size="7.5" text-anchor="middle" fill="#3a3a3a" stroke="#3a3a3a">58</text>
<line x1="306.50" y1="862.00" x2="306.50" y2="859.50" stroke="#333333" stroke-width="0.8"/>
<text transform="translate(305.80,873.25) scale(0.85,1)" font-family="Liberation Sans, Arial, sans-serif" font-size="7.5" text-anchor="middle" fill="#3a3a3a" stroke="#3a3a3a">60</text>
<line x1="43.60" y1="862.00" x2="46.10" y2="862.00" stroke="#333333" stroke-width="0.8"/>
<text transform="translate(39.40,865.55) scale(0.85,1)" font-family="Liberation Sans, Arial, sans-serif" font-size="7.5" text-anchor="end" fill="#3a3a3a" stroke="#3a3a3a">0.63</text>
<line x1="43.60" y1="823.17" x2="46.10" y2="823.17" stroke="#333333" stroke-width="0.8"/>
<text transform="translate(39.40,826.72) scale(0.85,1)" font-family="Liberation Sans, Arial, sans-serif" font-size="7.5" text-anchor="end" fill="#3a3a3a" stroke="#3a3a3a">0.64</text>
<line x1="43.60" y1="784.33" x2="46.10" y2="784.33" stroke="#333333" stroke-width="0.8"/>
<text transform="translate(39.40,787.88) scale(0.85,1)" font-family="Liberation Sans, Arial, sans-serif" font-size="7.5" text-anchor="end" fill="#3a3a3a" stroke="#3a3a3a">0.65</text>
<line x1="43.60" y1="745.50" x2="46.10" y2="745.50" stroke="#333333" stroke-width="0.8"/>
<text transform="translate(39.40,749.05) scale(0.85,1)" font-family="Liberation Sans, Arial, sans-serif" font-size="7.5" text-anchor="end" fill="#3a3a3a" stroke="#3a3a3a">0.66</text>
<line x1="43.60" y1="706.67" x2="46.10" y2="706.67" stroke="#333333" stroke-width="0.8"/>
<text transform="translate(39.40,710.22) scale(0.85,1)" font-family="Liberation Sans, Arial, sans-serif" font-size="7.5" text-anchor="end" fill="#3a3a3a" stroke="#3a3a3a">0.67</text>
<line x1="43.60" y1="667.83" x2="46.10" y2="667.83" stroke="#333333" stroke-width="0.8"/>
<text transform="translate(39.40,671.38) scale(0.85,1)" font-family="Liberation Sans, Arial, sans-serif" font-size="7.5" text-anchor="end" fill="#3a3a3a" stroke="#3a3a3a">0.68</text>
<line x1="43.60" y1="629.00" x2="46.10" y2="629.00" stroke="#333333" stroke-width="0.8"/>
<text transform="translate(39.40,632.55) scale(0.85,1)" font-family="Liberation Sans, Arial, sans-serif" font-size="7.5" text-anchor="end" fill="#3a3a3a" stroke="#3a3a3a">0.69</text>
<polygon points="42.8,667.8 307.0,823.2 307.0,862.0 42.8,784.3" fill="url(#pc)"/>
<text transform="translate(129.00,892.30) scale(1,1)" font-family="Liberation Sans, Arial, sans-serif" font-size="8" text-anchor="start" fill="#3a3a3a" stroke="#3a3a3a" textLength="101" lengthAdjust="spacingAndGlyphs">Nickel percentage &quot;PNi&quot; (%)</text>
<text transform="translate(20.8,783.8) rotate(-90)" font-family="Liberation Sans, Arial, sans-serif" font-size="7.5" fill="#3a3a3a" stroke="#3a3a3a" textLength="75" lengthAdjust="spacingAndGlyphs">Frictioncoeffecient &quot;f&quot;</text>
<text transform="translate(61.20,611.40) scale(1.156,1)" font-family="Liberation Serif, Times New Roman, serif" font-size="16" text-anchor="start" fill="#111" stroke="#111" font-weight="bold">(c)</text>
<rect x="47.00" y="672.00" width="29.00" height="36.40" fill="#fffff5" stroke="#cfcfc4" stroke-width="0.8"/>
<text transform="translate(49.50,683.15) scale(0.88,1)" font-family="Liberation Sans, Arial, sans-serif" font-size="7.7" text-anchor="start" fill="#222" stroke="#222">X: 2</text>
<text transform="translate(49.50,692.85) scale(0.88,1)" font-family="Liberation Sans, Arial, sans-serif" font-size="7.7" text-anchor="start" fill="#222" stroke="#222">Y: 40</text>
<text transform="translate(49.50,703.75) scale(0.88,1)" font-family="Liberation Sans, Arial, sans-serif" font-size="7.7" text-anchor="start" fill="#222" stroke="#222">Z: 0.68</text>
<rect x="40.70" y="665.70" width="5.2" height="5.2" fill="#000"/>
<rect x="178.50" y="706.40" width="33.40" height="35.60" fill="#fffff5" stroke="#cfcfc4" stroke-width="0.8"/>
<text transform="translate(180.90,717.35) scale(0.88,1)" font-family="Liberation Sans, Arial, sans-serif" font-size="7.7" text-anchor="start" fill="#222" stroke="#222">X: 2.009</text>
<text transform="translate(180.90,727.25) scale(0.88,1)" font-family="Liberation Sans, Arial, sans-serif" font-size="7.7" text-anchor="start" fill="#222" stroke="#222">Y: 49.98</text>
<text transform="translate(180.90,737.95) scale(0.88,1)" font-family="Liberation Sans, Arial, sans-serif" font-size="7.7" text-anchor="start" fill="#222" stroke="#222">Z: 0.66</text>
<rect x="171.80" y="743.60" width="5.2" height="5.2" fill="#000"/>
<rect x="47.00" y="744.70" width="28.60" height="35.90" fill="#fffff5" stroke="#cfcfc4" stroke-width="0.8"/>
<text transform="translate(49.50,756.25) scale(0.88,1)" font-family="Liberation Sans, Arial, sans-serif" font-size="7.7" text-anchor="start" fill="#222" stroke="#222">X: 4</text>
<text transform="translate(49.50,765.95) scale(0.88,1)" font-family="Liberation Sans, Arial, sans-serif" font-size="7.7" text-anchor="start" fill="#222" stroke="#222">Y: 40</text>
<text transform="translate(49.50,776.85) scale(0.88,1)" font-family="Liberation Sans, Arial, sans-serif" font-size="7.7" text-anchor="start" fill="#222" stroke="#222">Z: 0.65</text>
<rect x="40.70" y="782.30" width="5.2" height="5.2" fill="#000"/>
<rect x="178.50" y="782.70" width="36.30" height="35.30" fill="#fffff5" stroke="#cfcfc4" stroke-width="0.8"/>
<text transform="translate(180.90,793.35) scale(0.88,1)" font-family="Liberation Sans, Arial, sans-serif" font-size="7.7" text-anchor="start" fill="#222" stroke="#222">X: 3.974</text>
<text transform="translate(180.90,803.05) scale(0.88,1)" font-family="Liberation Sans, Arial, sans-serif" font-size="7.7" text-anchor="start" fill="#222" stroke="#222">Y: 50.02</text>
<text transform="translate(180.90,814.35) scale(0.88,1)" font-family="Liberation Sans, Arial, sans-serif" font-size="7.7" text-anchor="start" fill="#222" stroke="#222">Z: 0.6404</text>
<rect x="172.80" y="820.00" width="5.2" height="5.2" fill="#000"/>
<rect x="275.20" y="784.10" width="27.80" height="35.90" fill="#fffff5" stroke="#cfcfc4" stroke-width="0.8"/>
<text transform="translate(277.00,794.75) scale(0.88,1)" font-family="Liberation Sans, Arial, sans-serif" font-size="7.7" text-anchor="start" fill="#222" stroke="#222">X: 2</text>
<text transform="translate(277.00,804.65) scale(0.88,1)" font-family="Liberation Sans, Arial, sans-serif" font-size="7.7" text-anchor="start" fill="#222" stroke="#222">Y: 60</text>
<text transform="translate(277.00,814.95) scale(0.88,1)" font-family="Liberation Sans, Arial, sans-serif" font-size="7.7" text-anchor="start" fill="#222" stroke="#222">Z: 0.64</text>
<rect x="303.90" y="821.50" width="5.2" height="5.2" fill="#000"/>
<rect x="326.00" y="629.00" width="8.60" height="233.00" fill="url(#gc)" stroke="#3c3c28" stroke-width="0.8"/>
<text transform="translate(337.00,631.70) scale(0.85,1)" font-family="Liberation Sans, Arial, sans-serif" font-size="7.5" text-anchor="start" fill="#3a3a3a" stroke="#3a3a3a">0.68</text>
<line x1="333.10" y1="652.30" x2="334.60" y2="652.30" stroke="#333" stroke-width="0.7"/>
<text transform="translate(337.00,655.00) scale(0.85,1)" font-family="Liberation Sans, Arial, sans-serif" font-size="7.5" text-anchor="start" fill="#3a3a3a" stroke="#3a3a3a">0.675</text>
<line x1="333.10" y1="675.60" x2="334.60" y2="675.60" stroke="#333" stroke-width="0.7"/>
<text transform="translate(337.00,678.30) scale(0.85,1)" font-family="Liberation Sans, Arial, sans-serif" font-size="7.5" text-anchor="start" fill="#3a3a3a" stroke="#3a3a3a">0.67</text>
<line x1="333.10" y1="698.90" x2="334.60" y2="698.90" stroke="#333" stroke-width="0.7"/>
<text transform="translate(337.00,701.60) scale(0.85,1)" font-family="Liberation Sans, Arial, sans-serif" font-size="7.5" text-anchor="start" fill="#3a3a3a" stroke="#3a3a3a">0.665</text>
<line x1="333.10" y1="722.20" x2="334.60" y2="722.20" stroke="#333" stroke-width="0.7"/>
<text transform="translate(337.00,724.90) scale(0.85,1)" font-family="Liberation Sans, Arial, sans-serif" font-size="7.5" text-anchor="start" fill="#3a3a3a" stroke="#3a3a3a">0.66</text>
<line x1="333.10" y1="745.50" x2="334.60" y2="745.50" stroke="#333" stroke-width="0.7"/>
<text transform="translate(337.00,748.20) scale(0.85,1)" font-family="Liberation Sans, Arial, sans-serif" font-size="7.5" text-anchor="start" fill="#3a3a3a" stroke="#3a3a3a">0.655</text>
<line x1="333.10" y1="768.80" x2="334.60" y2="768.80" stroke="#333" stroke-width="0.7"/>
<text transform="translate(337.00,771.50) scale(0.85,1)" font-family="Liberation Sans, Arial, sans-serif" font-size="7.5" text-anchor="start" fill="#3a3a3a" stroke="#3a3a3a">0.65</text>
<line x1="333.10" y1="792.10" x2="334.60" y2="792.10" stroke="#333" stroke-width="0.7"/>
<text transform="translate(337.00,794.80) scale(0.85,1)" font-family="Liberation Sans, Arial, sans-serif" font-size="7.5" text-anchor="start" fill="#3a3a3a" stroke="#3a3a3a">0.645</text>
<line x1="333.10" y1="815.40" x2="334.60" y2="815.40" stroke="#333" stroke-width="0.7"/>
<text transform="translate(337.00,818.10) scale(0.85,1)" font-family="Liberation Sans, Arial, sans-serif" font-size="7.5" text-anchor="start" fill="#3a3a3a" stroke="#3a3a3a">0.64</text>
<line x1="333.10" y1="838.70" x2="334.60" y2="838.70" stroke="#333" stroke-width="0.7"/>
<text transform="translate(337.00,841.40) scale(0.85,1)" font-family="Liberation Sans, Arial, sans-serif" font-size="7.5" text-anchor="start" fill="#3a3a3a" stroke="#3a3a3a">0.635</text>
<text transform="translate(337.00,864.70) scale(0.85,1)" font-family="Liberation Sans, Arial, sans-serif" font-size="7.5" text-anchor="start" fill="#3a3a3a" stroke="#3a3a3a">0.63</text>
</svg>
</body></html>
